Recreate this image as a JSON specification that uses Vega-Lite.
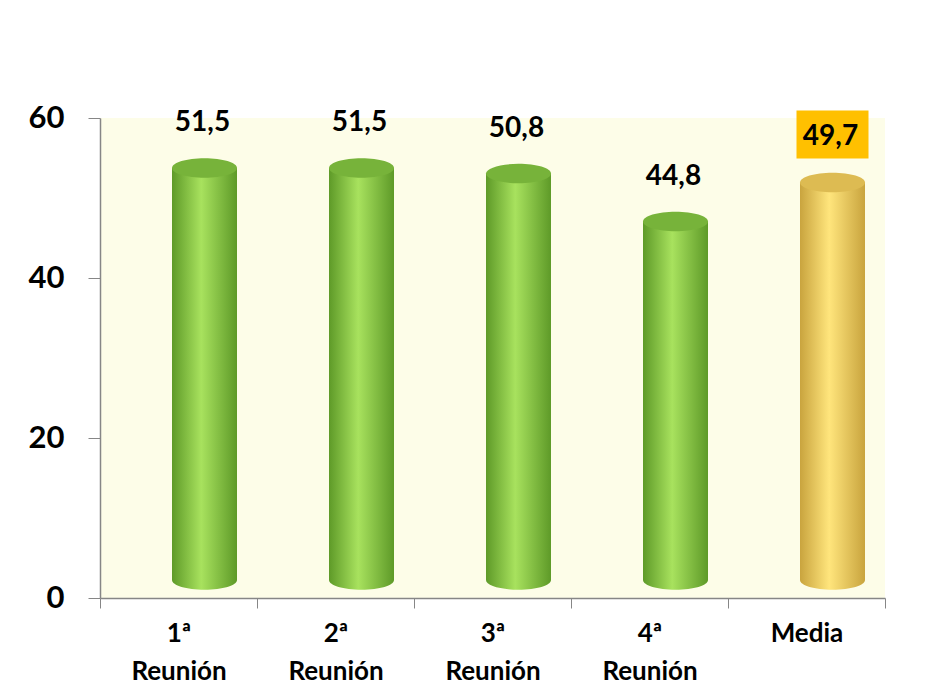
{
  "$schema": "https://vega.github.io/schema/vega-lite/v6.json",
  "width": 785,
  "height": 480,
  "autosize": {"type": "none"},
  "padding": {"left": 100, "top": 118, "right": 58, "bottom": 100},
  "background": "white",
  "config": {
    "font": "Lato",
    "view": {"fill": "#FDFDE8", "stroke": null},
    "locale": {"number": {"decimal": ",", "thousands": ".", "grouping": [3], "currency": ["", " €"]}}
  },
  "data": {
    "values": [
      {"reunion": "1ª Reunión", "valor": 51.5, "grupo": "reunion"},
      {"reunion": "2ª Reunión", "valor": 51.5, "grupo": "reunion"},
      {"reunion": "3ª Reunión", "valor": 50.8, "grupo": "reunion"},
      {"reunion": "4ª Reunión", "valor": 44.8, "grupo": "reunion"},
      {"reunion": "Media", "valor": 49.7, "grupo": "media"}
    ]
  },
  "encoding": {
    "x": {
      "field": "reunion",
      "type": "nominal",
      "sort": null,
      "title": null,
      "axis": {
        "labelAngle": 0,
        "labelFont": "Lato",
        "labelFontSize": 26,
        "labelFontWeight": "bold",
        "labelColor": "#000000",
        "labelExpr": "split(datum.label, ' ')",
        "labelLineHeight": 38,
        "labelBaseline": "top",
        "labelPadding": 12,
        "tickBand": "extent",
        "tickSize": 10,
        "tickColor": "#868686",
        "domainColor": "#868686",
        "domainWidth": 1.5
      }
    },
    "y": {
      "field": "valor",
      "type": "quantitative",
      "title": null,
      "scale": {"domain": [0, 60]},
      "axis": {
        "values": [0, 20, 40, 60],
        "grid": false,
        "labelFont": "Lato",
        "labelFontSize": 31,
        "labelFontWeight": "bold",
        "labelColor": "#000000",
        "labelPadding": 24,
        "tickSize": 12,
        "tickColor": "#868686",
        "domainColor": "#868686",
        "domainWidth": 1.5
      }
    }
  },
  "layer": [
    {
      "transform": [{"filter": "datum.grupo === 'reunion'"}],
      "mark": {
        "type": "point", "shape": "M-1,0A1,0.3,0,1,0,1,0A1,0.3,0,1,0,-1,0Z",
        "size": 4225, "filled": true, "opacity": 1, "xOffset": 26, "yOffset": -18,
        "fill": {"gradient": "linear", "x1": 0, "x2": 1, "y1": 0, "y2": 0,
          "stops": [{"offset": 0, "color": "#5E9A28"}, {"offset": 0.45, "color": "#A8E25E"}, {"offset": 1, "color": "#5E9A28"}]}
      },
      "encoding": {"y": {"datum": 0}}
    },
    {
      "transform": [{"filter": "datum.grupo === 'media'"}],
      "mark": {
        "type": "point", "shape": "M-1,0A1,0.3,0,1,0,1,0A1,0.3,0,1,0,-1,0Z",
        "size": 4225, "filled": true, "opacity": 1, "xOffset": 26, "yOffset": -18,
        "fill": {"gradient": "linear", "x1": 0, "x2": 1, "y1": 0, "y2": 0,
          "stops": [{"offset": 0, "color": "#C9A43E"}, {"offset": 0.45, "color": "#FFE57C"}, {"offset": 1, "color": "#C9A43E"}]}
      },
      "encoding": {"y": {"datum": 0}}
    },
    {
      "transform": [{"filter": "datum.grupo === 'reunion'"}],
      "mark": {
        "type": "bar", "size": 65, "xOffset": 26, "yOffset": -18,
        "fill": {"gradient": "linear", "x1": 0, "x2": 1, "y1": 0, "y2": 0,
          "stops": [{"offset": 0, "color": "#5E9A28"}, {"offset": 0.45, "color": "#A8E25E"}, {"offset": 1, "color": "#5E9A28"}]}
      }
    },
    {
      "transform": [{"filter": "datum.grupo === 'media'"}],
      "mark": {
        "type": "bar", "size": 65, "xOffset": 26, "yOffset": -18,
        "fill": {"gradient": "linear", "x1": 0, "x2": 1, "y1": 0, "y2": 0,
          "stops": [{"offset": 0, "color": "#C9A43E"}, {"offset": 0.45, "color": "#FFE57C"}, {"offset": 1, "color": "#C9A43E"}]}
      }
    },
    {
      "mark": {
        "type": "point", "shape": "M-1,0A1,0.3,0,1,0,1,0A1,0.3,0,1,0,-1,0Z",
        "size": 4225, "filled": true, "opacity": 1, "xOffset": 26, "yOffset": -18
      },
      "encoding": {
        "color": {
          "condition": {"test": "datum.grupo === 'media'", "value": "#DDBB52"},
          "value": "#77B33A"
        }
      }
    },
    {
      "transform": [{"filter": "datum.grupo === 'media'"}],
      "mark": {
        "type": "point", "shape": "M-1.5,-1H1.5V1H-1.5Z",
        "size": 2304, "filled": true, "opacity": 1, "color": "#FFC000",
        "xOffset": 26, "yOffset": -66
      }
    },
    {
      "mark": {
        "type": "text", "font": "Lato", "fontSize": 28, "fontWeight": "bold",
        "color": "#000000", "baseline": "middle", "align": "center",
        "xOffset": 24, "yOffset": -63
      },
      "encoding": {
        "text": {"field": "valor", "type": "quantitative", "format": ".1f"}
      }
    }
  ]
}
